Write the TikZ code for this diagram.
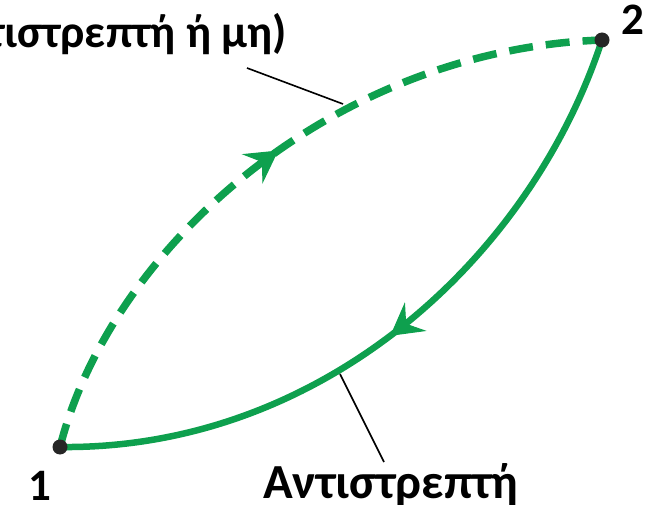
\documentclass[tikz,border=0pt]{standalone}
\usepackage{fontspec}
\setmainfont{Carlito}
\usetikzlibrary{arrows.meta,decorations.markings}
\definecolor{pgreen}{RGB}{14,160,78}
\tikzset{
  pathline/.style={draw=pgreen, line width=6.5pt},
  dashline/.style={pathline, line width=7.5pt, dash pattern=on 24pt off 13pt},
  midarrow/.style={postaction={decorate}, decoration={markings,
      mark=at position #1 with {\arrow[solid,pgreen,line width=1pt]{Stealth[length=32pt,width=36pt,inset=12pt]}}}},
  leader/.style={draw=black, line width=1.6pt},
  dot/.style={circle, fill=black!85, inner sep=0pt, minimum size=15pt},
  lbl/.style={font=\bfseries\fontsize{49}{52}\selectfont, inner sep=0pt},
  numlbl/.style={font=\bfseries\fontsize{45}{48}\selectfont, inner sep=0pt},
  toplbl/.style={font=\bfseries\fontsize{46}{50}\selectfont, inner sep=0pt}
}
\begin{document}
\begin{tikzpicture}[x=1pt,y=-1pt]
\useasboundingbox (0,0) rectangle (646,505);
\coordinate (p1) at (60,447);
\coordinate (p2) at (602,40);
% dashed path (reversible or not)
\path[dashline, midarrow=0.52] (p1) .. controls (110,250) and (330,50) .. (p2);
% solid reversible path
\path[pathline, midarrow=0.51] (p2) .. controls (530,260) and (320,450) .. (p1);
\node[dot] (n1) at (p1) {};
\node[dot] (n2) at (p2) {};
\node[numlbl, anchor=base west] (l1) at (28,500) {1};
\node[numlbl, anchor=base west] (l2) at (621,35) {2};
\node[toplbl, anchor=base east] (top) at (287,48) {(αντιστρεπτή ή μη)};
\node[lbl, anchor=base west] (bot) at (263,498) {Αντιστρεπτή};
\coordinate (ta) at (247,68);
\coordinate (tb) at (343,104);
\coordinate (ba) at (340,374);
\coordinate (bb) at (384,462);
\draw[leader] (ta) -- (tb);
\draw[leader] (ba) -- (bb);
\end{tikzpicture}
\end{document}
